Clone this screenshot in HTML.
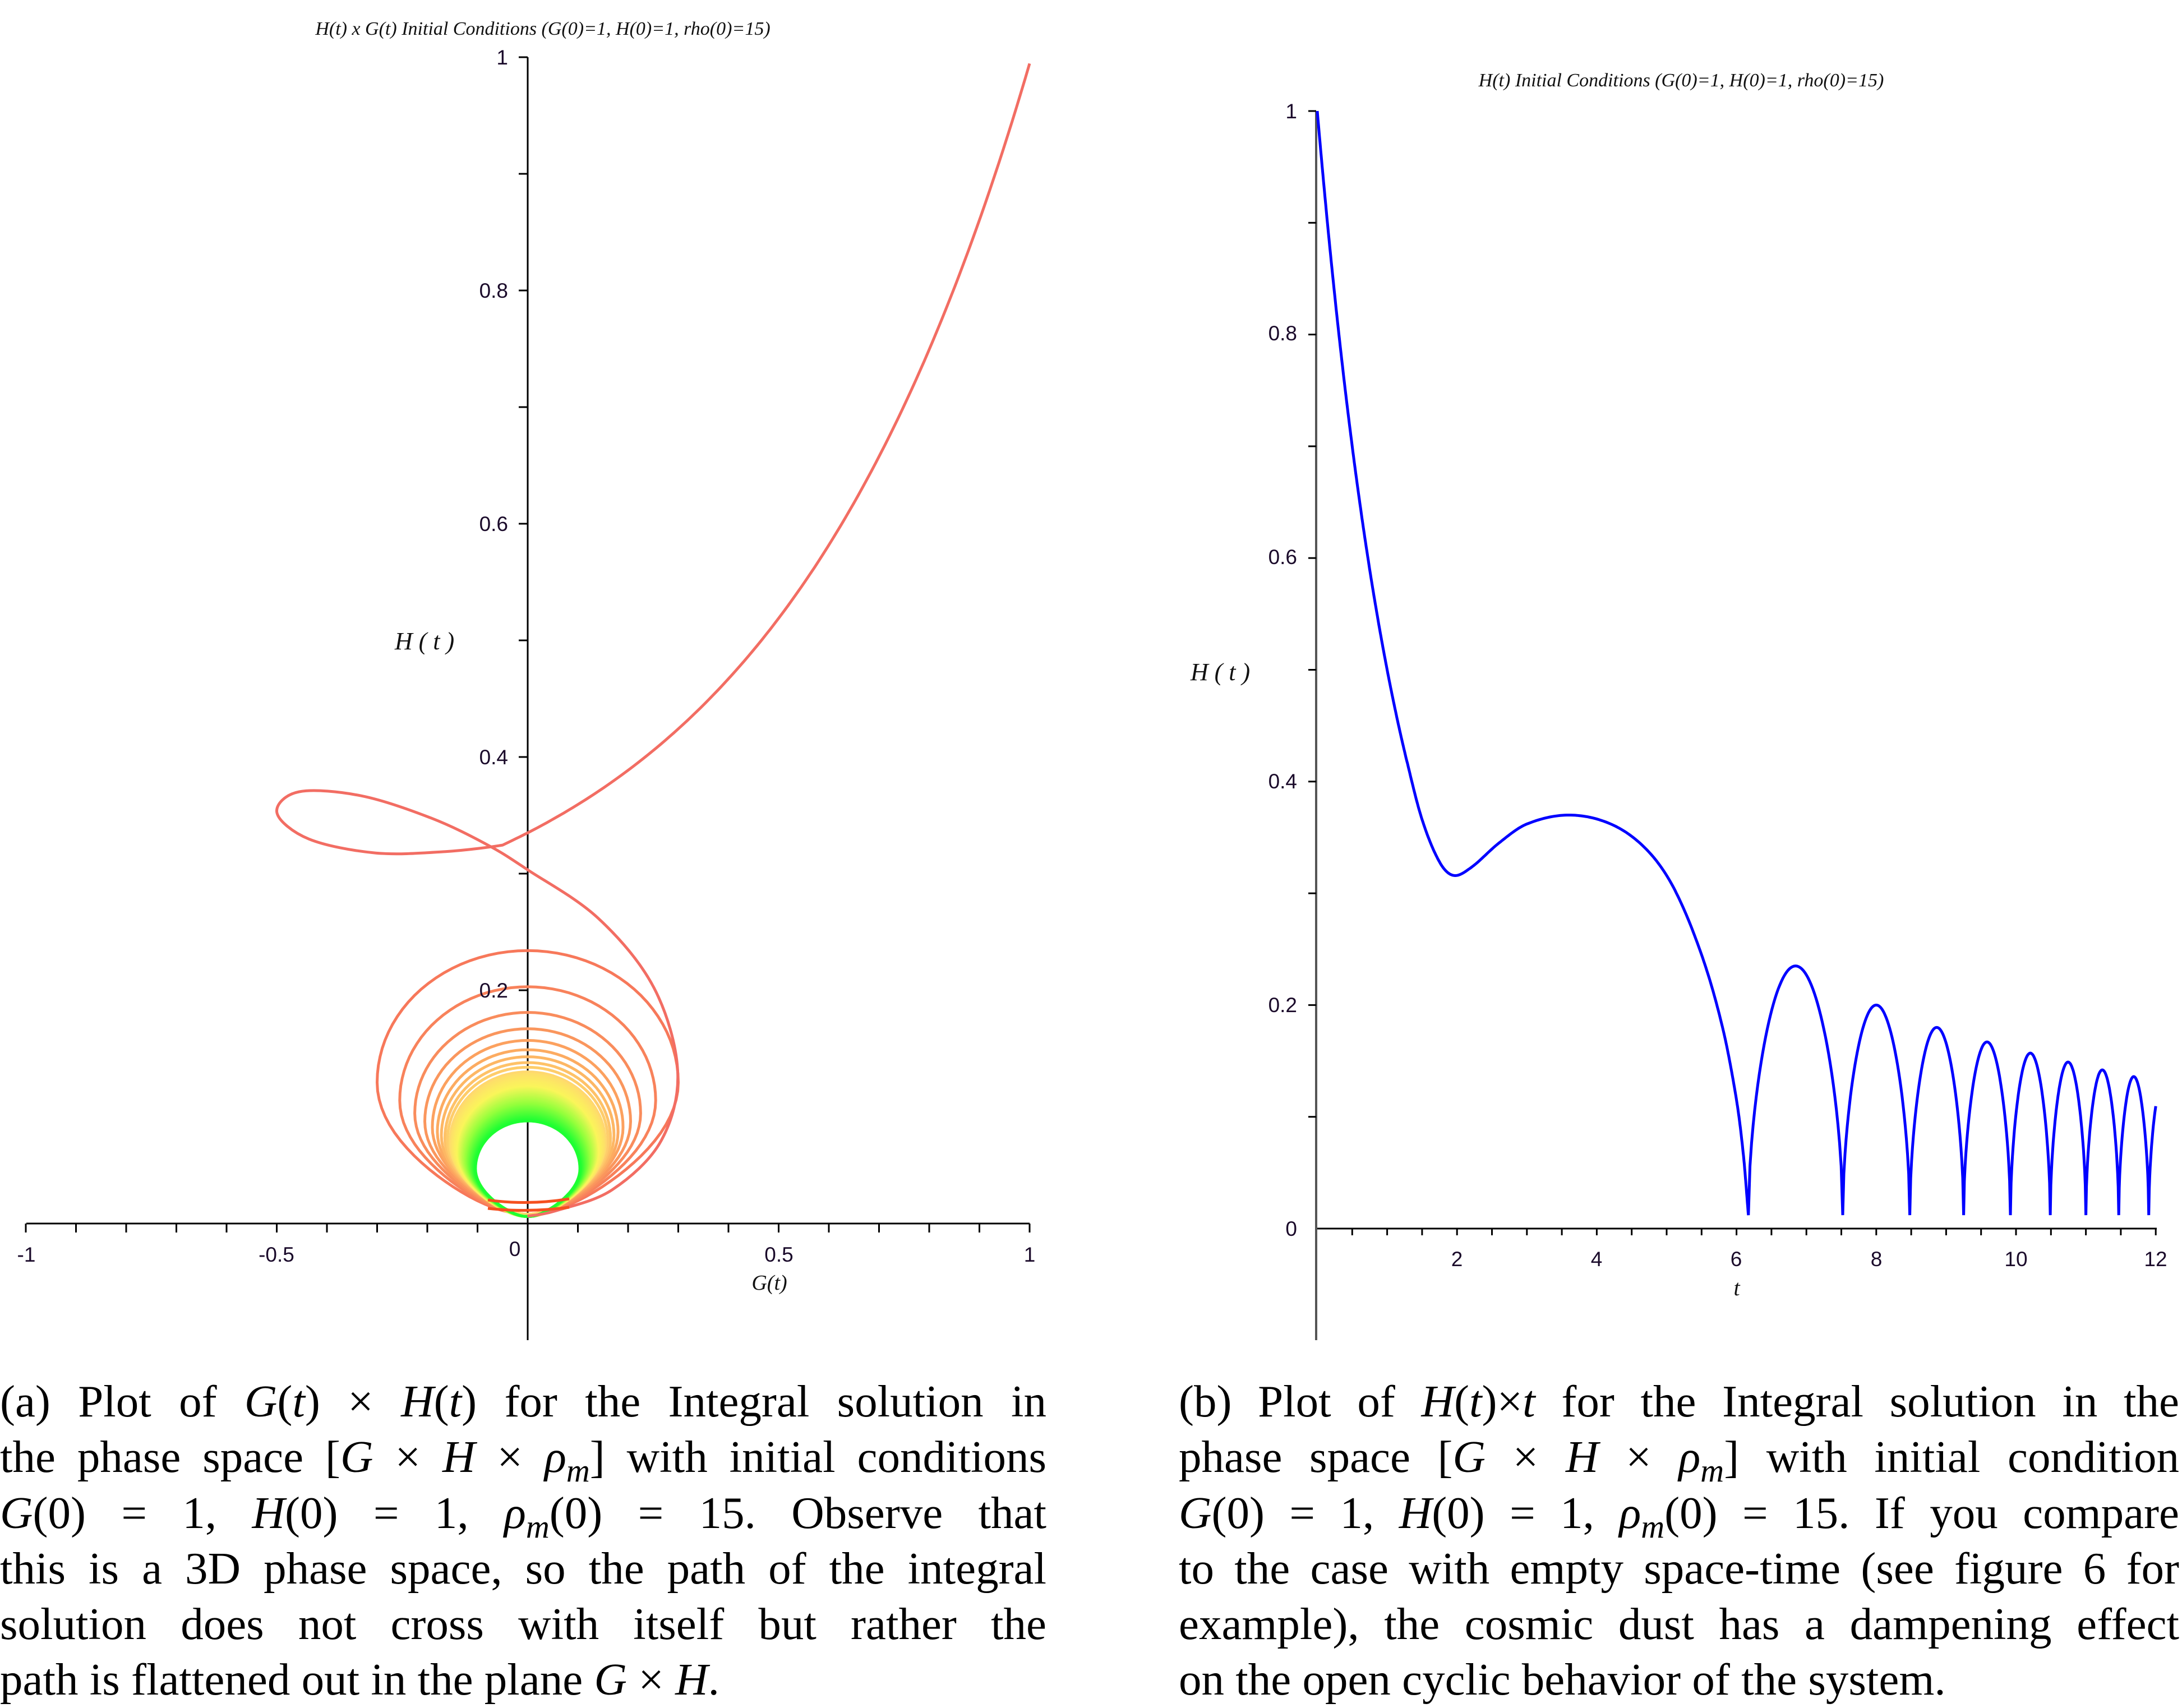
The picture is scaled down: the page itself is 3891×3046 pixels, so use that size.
<!DOCTYPE html>
<html><head><meta charset="utf-8">
<style>
html,body{margin:0;padding:0;background:#fff;}
body{width:3891px;height:3039px;position:relative;overflow:hidden;}
svg{position:absolute;left:0;top:0;}
.cap{position:absolute;font-family:"Liberation Serif",serif;font-size:81px;color:#000;}
.cap div{height:99.3px;line-height:99.3px;text-align:justify;text-align-last:justify;white-space:nowrap;}
.cap div.last{text-align-last:left;}
.cap i{font-style:italic;}
</style></head><body>
<svg id="s" width="3891" height="3039" viewBox="0 0 3891 3039" xmlns="http://www.w3.org/2000/svg">
<g id="axes" stroke="#000" fill="none"></g>
<g id="loops" fill="none" stroke-width="5"></g>
<path id="red" fill="none" stroke="#f26d63" stroke-width="5" stroke-linejoin="round"/>
<g id="redbot" fill="none" stroke="#f5501f" stroke-width="5">
<path d="M870,2140 Q941,2150 1015,2138"/>
<path d="M870,2155 Q941,2163 1015,2153"/>
</g>
<path id="blue" fill="none" stroke="#0000ff" stroke-width="5"></path>
<g font-family="Liberation Sans, sans-serif" font-size="37" fill="#1a0a2a">
<text x="47" y="2250" text-anchor="middle">-1</text>
<text x="493" y="2250" text-anchor="middle">-0.5</text>
<text x="918" y="2240" text-anchor="middle">0</text>
<text x="1389" y="2250" text-anchor="middle">0.5</text>
<text x="1836" y="2250" text-anchor="middle">1</text>
<text x="906" y="1779" text-anchor="end">0.2</text>
<text x="906" y="1363" text-anchor="end">0.4</text>
<text x="906" y="947" text-anchor="end">0.6</text>
<text x="906" y="531" text-anchor="end">0.8</text>
<text x="906" y="115" text-anchor="end">1</text>
<text x="2313" y="2204" text-anchor="end">0</text>
<text x="2313" y="1805" text-anchor="end">0.2</text>
<text x="2313" y="1406" text-anchor="end">0.4</text>
<text x="2313" y="1006" text-anchor="end">0.6</text>
<text x="2313" y="607" text-anchor="end">0.8</text>
<text x="2313" y="211" text-anchor="end">1</text>
<text x="2598" y="2258" text-anchor="middle">2</text>
<text x="2847" y="2258" text-anchor="middle">4</text>
<text x="3096" y="2258" text-anchor="middle">6</text>
<text x="3346" y="2258" text-anchor="middle">8</text>
<text x="3595" y="2258" text-anchor="middle">10</text>
<text x="3844" y="2258" text-anchor="middle">12</text>
</g>
<g font-family="Liberation Serif, serif" font-style="italic" fill="#111">
<text x="968" y="62" font-size="34" text-anchor="middle">H(t) x G(t) Initial Conditions (G(0)=1, H(0)=1, rho(0)=15)</text>
<text x="2998" y="154" font-size="34" text-anchor="middle">H(t) Initial Conditions (G(0)=1, H(0)=1, rho(0)=15)</text>
<text x="757" y="1158" font-size="44" text-anchor="middle">H ( t )</text>
<text x="2176" y="1213" font-size="44" text-anchor="middle">H ( t )</text>
<text x="1372" y="2300" font-size="38" text-anchor="middle">G(t)</text>
<text x="3097" y="2310" font-size="40" text-anchor="middle">t</text>
</g>
</svg>

<div class="cap" style="left:0;top:2450px;width:1866px;">
<div>(a) Plot of <i>G</i>(<i>t</i>) × <i>H</i>(<i>t</i>) for the Integral solution in</div>
<div>the phase space [<i>G</i> × <i>H</i> × <i>ρ<sub style="font-size:58px">m</sub></i>] with initial conditions</div>
<div><i>G</i>(0) = 1, <i>H</i>(0) = 1, <i>ρ<sub style="font-size:58px">m</sub></i>(0) = 15. Observe that</div>
<div>this is a 3D phase space, so the path of the integral</div>
<div>solution does not cross with itself but rather the</div>
<div class="last">path is flattened out in the plane <i>G</i> × <i>H</i>.</div>
</div>
<div class="cap" style="left:2102px;top:2450px;width:1784px;">
<div>(b) Plot of <i>H</i>(<i>t</i>)×<i>t</i> for the Integral solution in the</div>
<div>phase space [<i>G</i> × <i>H</i> × <i>ρ<sub style="font-size:58px">m</sub></i>] with initial condition</div>
<div><i>G</i>(0) = 1, <i>H</i>(0) = 1, <i>ρ<sub style="font-size:58px">m</sub></i>(0) = 15. If you compare</div>
<div>to the case with empty space-time (see figure 6 for</div>
<div>example), the cosmic dust has a dampening effect</div>
<div class="last">on the open cyclic behavior of the system.</div>
</div>

<script>
(function(){
var NS="http://www.w3.org/2000/svg";
function el(p,tag,attrs){var e=document.createElementNS(NS,tag);for(var k in attrs)e.setAttribute(k,attrs[k]);p.appendChild(e);return e;}
var ax=document.getElementById('axes');
el(ax,'line',{x1:47,y1:2182,x2:1836,y2:2182,'stroke-width':3});
el(ax,'line',{x1:941,y1:102,x2:941,y2:2390,'stroke-width':3});
for(var i=-10;i<=10;i++){var x=941+i*89.5;el(ax,'line',{x1:x,y1:2182,x2:x,y2:2198,'stroke-width':3});}
for(var i=1;i<=10;i++){var y=2182-i*208;el(ax,'line',{x1:925,y1:y,x2:941,y2:y,'stroke-width':3});}
el(ax,'line',{x1:2347,y1:2191,x2:3846,y2:2191,'stroke-width':3});
el(ax,'line',{x1:2347,y1:198,x2:2347,y2:2390,'stroke-width':4,stroke:'#555'});
for(var i=1;i<=24;i++){var x=2349+i*62.3;el(ax,'line',{x1:x,y1:2191,x2:x,y2:2203,'stroke-width':3});}
for(var i=1;i<=10;i++){var y=2191-i*199.3;el(ax,'line',{x1:2333,y1:y,x2:2347,y2:y,'stroke-width':3});}

function X(G){return 941+G*895;}function Y(H){return 2182-H*2080;}
function HF(G){return 0.335+0.116*(Math.exp(1.9*G)-1);}
var d='';
for(var k=0;k<=120;k++){var G=1-1.05*k/120;d+=(k?'L':'M')+X(G).toFixed(1)+','+Y(HF(G)).toFixed(1);}
var S=2.4815;
var rp=[[320,612],[270,613],[222,603],[199,584],[215,569],[260,572],[310,588],[350,607],[379,625],[430,660],[470,710],[487,770],[475,820],[440,855],[400,870],[379,874]];
rp=rp.map(function(p){return [p[0]*S,p[1]*S];});
rp.unshift([X(-0.05),Y(HF(-0.05))]);
rp.unshift([X(-0.03),Y(HF(-0.03))]);
for(var i=1;i<rp.length-1;i++){
 var p0=rp[i-1],p1=rp[i],p2=rp[i+1],p3=rp[Math.min(i+2,rp.length-1)];
 d+='C'+(p1[0]+(p2[0]-p0[0])/6).toFixed(1)+','+(p1[1]+(p2[1]-p0[1])/6).toFixed(1)+' '+(p2[0]-(p3[0]-p1[0])/6).toFixed(1)+','+(p2[1]-(p3[1]-p1[1])/6).toFixed(1)+' '+p2[0].toFixed(1)+','+p2[1].toFixed(1);
}
document.getElementById('red').setAttribute('d',d);

var lg=document.getElementById('loops');
function lerp(a,b,t){return a+(b-a)*t;}
function col(t){
 var stops=[[247,120,90],[252,165,95],[255,215,110],[250,245,90],[150,255,60],[30,255,50]];
 var s=t*(stops.length-1),i=Math.min(Math.floor(s),stops.length-2),f=s-i;
 return 'rgb('+Math.round(lerp(stops[i][0],stops[i+1][0],f))+','+Math.round(lerp(stops[i][1],stops[i+1][1],f))+','+Math.round(lerp(stops[i][2],stops[i+1][2],f))+')';
}
function loop(h,w,yb,c,sw){
 var d='';
 for(var k=0;k<=96;k++){var th=k/96*2*Math.PI;var ct=Math.cos(th);var g=w*Math.sin(th);
  if(ct<0){g*=1-0.3*(-ct)*(-ct);}
  var H=yb+(h-yb)*(1+ct)/2;
  d+=(k?'L':'M')+X(g).toFixed(1)+','+Y(H).toFixed(1);}
 el(lg,'path',{d:d+'Z',stroke:c,'stroke-width':sw});
}
var hs=[0.234,0.203,0.181,0.167,0.157,0.149,0.143,0.138,0.134,0.130];
var ws=[0.30,0.255,0.225,0.205,0.19,0.18,0.172,0.165,0.16,0.155];
for(var i=0;i<hs.length;i++){loop(hs[i],ws[i],0.008,col(i/hs.length*0.45),5);}
var N=45;
for(var i=0;i<N;i++){var f=i/(N-1);loop(lerp(0.128,0.088,f),lerp(0.152,0.104,f),0.006,col(0.45+0.55*f),5);}

function TX(t){return 2349+t*124.6;}function TY(H){return 2191-H*1993;}
var bd='';
for(var k=0;k<=128;k++){var t=1.28*k/128;var H=0.1+0.9*Math.exp(-0.811*t);bd+=(k?'L':'M')+TX(t).toFixed(1)+','+TY(H).toFixed(1);}
var pts=[[1.28,0.419],[1.5,0.366],[1.75,0.328],[1.95,0.316],[2.2,0.323],[2.6,0.345],[3.0,0.362],[3.6,0.37],[4.2,0.362],[4.7,0.34],[5.1,0.305],[5.5,0.245],[5.8,0.18],[6.0,0.115],[6.1,0.065],[6.17,0.012]];
var n=pts.length,m=[];
for(var i=0;i<n;i++){
 if(i==0)m.push(-0.811*0.9*Math.exp(-0.811*1.28));
 else if(i==n-1)m.push((pts[i][1]-pts[i-1][1])/(pts[i][0]-pts[i-1][0]));
 else m.push((pts[i+1][1]-pts[i-1][1])/(pts[i+1][0]-pts[i-1][0]));
}
for(var i=0;i<n-1;i++){
 var t0=pts[i][0],t1=pts[i+1][0],h=t1-t0,y0=pts[i][1],y1=pts[i+1][1];
 for(var k=1;k<=20;k++){var s=k/20;
  var h00=2*s*s*s-3*s*s+1,h10=s*s*s-2*s*s+s,h01=-2*s*s*s+3*s*s,h11=s*s*s-s*s;
  var H=h00*y0+h10*h*m[i]+h01*y1+h11*h*m[i+1];
  bd+='L'+TX(t0+s*h).toFixed(1)+','+TY(H).toFixed(1);}
}
var zeros=[6.17,7.52,8.48,9.25,9.92,10.49,11.0,11.47,11.9,12.3];
var peaks=[0.235,0.2,0.18,0.167,0.157,0.149,0.142,0.136,0.13];
for(var j=0;j<zeros.length-1;j++){
 var a=zeros[j],b=zeros[j+1],p=peaks[j];
 for(var k=1;k<=60;k++){var t=a+(b-a)*k/60;if(t>12){break;}
  var s=Math.sin(Math.PI*(t-a)/(b-a));var H=0.012+(p-0.012)*Math.pow(Math.max(s,0),0.55);
  bd+='L'+TX(t).toFixed(1)+','+TY(H).toFixed(1);}
}
document.getElementById('blue').setAttribute('d',bd);
})();
</script>
</body></html>
